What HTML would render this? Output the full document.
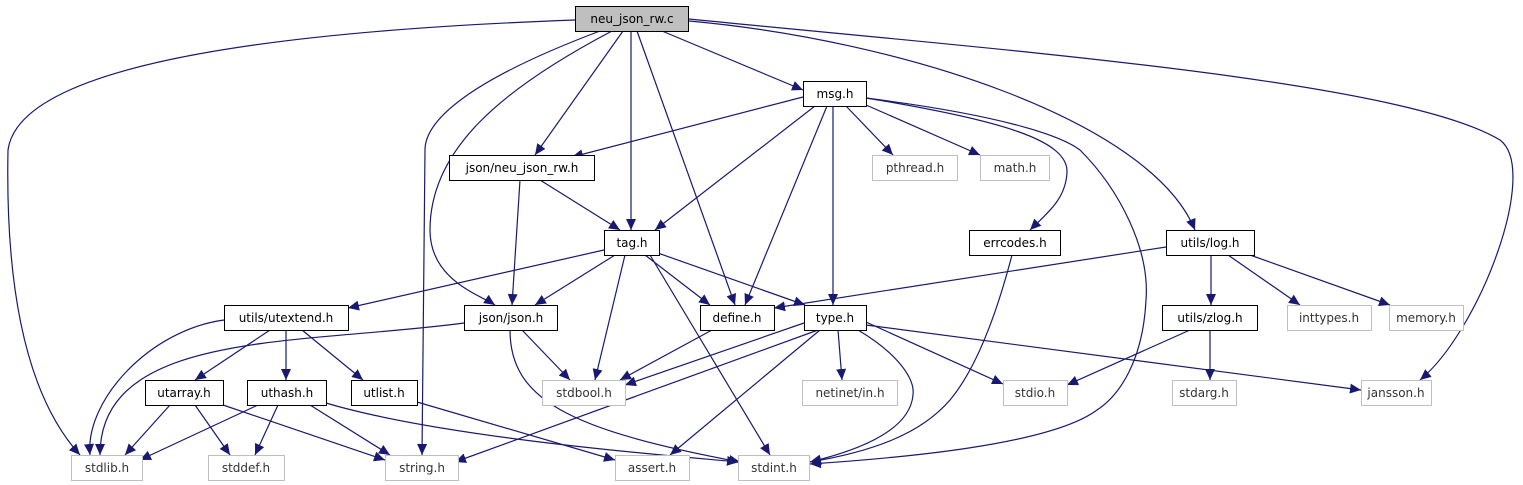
<!DOCTYPE html>
<html><head><meta charset="utf-8"><style>
body{margin:0;background:#fff}
svg{display:block}
text{font-family:"DejaVu Sans","Liberation Sans",sans-serif;font-size:12px;text-anchor:middle}
.e{fill:none;stroke:#191970;stroke-width:1.2}
.n{fill:#fff;stroke:#000;stroke-width:1}
.g{fill:#fff;stroke:#bfbfbf;stroke-width:1}
</style></head><body>
<svg width="1523" height="485" viewBox="0 0 1523 485" xmlns="http://www.w3.org/2000/svg">
<defs><marker id="a" markerUnits="userSpaceOnUse" markerWidth="12" markerHeight="10" refX="11" refY="5" orient="auto"><path d="M0,0 L11,5 L0,10 z" fill="#191970"/></marker></defs>
<g class="e" marker-end="url(#a)">
<path d="M575,20 C300,30 20,60 8,150 C5,300 30,400 80,455"/>
<path d="M600,31 C470,80 425,120 425,150 L422,455"/>
<path d="M612,31 C500,90 430,150 430,230 C430,280 480,295 495,305"/>
<path d="M623,31 L535,155"/>
<path d="M631,31 L631,230"/>
<path d="M637,31 L735,305"/>
<path d="M662,31 L803,90"/>
<path d="M689,21 C900,40 1150,120 1195,230"/>
<path d="M689,19 C1000,50 1400,80 1500,140 C1540,170 1480,330 1420,380"/>
<path d="M803,97 L572,157"/>
<path d="M815,106 L655,230"/>
<path d="M827,106 L745,305"/>
<path d="M833,106 L833,305"/>
<path d="M846,106 L893,155"/>
<path d="M866,105 L980,155"/>
<path d="M866,98 C1000,120 1068,140 1067,172 C1066,200 1045,215 1030,230"/>
<path d="M866,98 C1000,115 1060,135 1080,150 C1120,190 1150,250 1146,300 C1143,360 1120,395 1097,410 C1050,445 900,458 810,464"/>
<path d="M540,180 L620,230"/>
<path d="M520,180 L512,305"/>
<path d="M604,250 L348,308"/>
<path d="M615,255 L535,305"/>
<path d="M645,255 L710,305"/>
<path d="M655,252 L805,305"/>
<path d="M625,255 L595,380"/>
<path d="M650,255 L770,455"/>
<path d="M1012,255 C995,320 975,370 950,400 C920,435 870,452 810,462"/>
<path d="M1166,247 L774,308"/>
<path d="M1211,255 L1211,305"/>
<path d="M1228,255 L1300,305"/>
<path d="M1250,255 L1390,305"/>
<path d="M224,320 C150,330 85,400 90,455"/>
<path d="M270,330 L195,380"/>
<path d="M286,330 L286,380"/>
<path d="M302,330 L363,380"/>
<path d="M464,323 C300,345 100,330 100,455"/>
<path d="M522,330 L570,380"/>
<path d="M510,330 C510,400 570,430 740,462"/>
<path d="M712,330 L620,380"/>
<path d="M804,323 L625,385"/>
<path d="M818,330 L455,462"/>
<path d="M820,330 L670,455"/>
<path d="M838,330 L842,380"/>
<path d="M866,322 L1003,384"/>
<path d="M858,330 C900,355 915,380 913,395 C910,430 860,450 810,462"/>
<path d="M866,325 L1361,390"/>
<path d="M1190,330 L1067,385"/>
<path d="M1210,330 L1210,380"/>
<path d="M170,405 L125,455"/>
<path d="M195,405 L230,455"/>
<path d="M223,405 L385,460"/>
<path d="M258,405 L140,460"/>
<path d="M278,405 L255,455"/>
<path d="M310,405 L390,455"/>
<path d="M326,403 C450,440 700,458 738,462"/>
<path d="M417,402 L615,460"/>
</g>
<rect x="575.5" y="6.5" width="113" height="25" fill="#bfbfbf" stroke="#000"/><text x="632" y="23">neu_json_rw.c</text>
<rect class="n" x="803.5" y="81.5" width="63" height="25"/><text x="835" y="98">msg.h</text>
<rect class="n" x="449.5" y="155.5" width="145" height="25"/><text x="522" y="172">json/neu_json_rw.h</text>
<rect class="g" x="872.5" y="155.5" width="85" height="25"/><text x="915" y="172" fill="#333">pthread.h</text>
<rect class="g" x="980.5" y="155.5" width="69" height="25"/><text x="1015" y="172" fill="#333">math.h</text>
<rect class="n" x="604.5" y="230.5" width="55" height="25"/><text x="632" y="247">tag.h</text>
<rect class="n" x="969.5" y="230.5" width="91" height="25"/><text x="1015" y="247">errcodes.h</text>
<rect class="n" x="1166.5" y="230.5" width="88" height="25"/><text x="1210" y="247">utils/log.h</text>
<rect class="n" x="224.5" y="305.5" width="124" height="25"/><text x="286" y="322">utils/utextend.h</text>
<rect class="n" x="464.5" y="305.5" width="93" height="25"/><text x="511" y="322">json/json.h</text>
<rect class="n" x="700.5" y="305.5" width="74" height="25"/><text x="737" y="322">define.h</text>
<rect class="n" x="804.5" y="305.5" width="62" height="25"/><text x="835" y="322">type.h</text>
<rect class="n" x="1162.5" y="305.5" width="95" height="25"/><text x="1210" y="322">utils/zlog.h</text>
<rect class="g" x="1287.5" y="305.5" width="84" height="25"/><text x="1329" y="322" fill="#333">inttypes.h</text>
<rect class="g" x="1389.5" y="305.5" width="74" height="25"/><text x="1426" y="322" fill="#333">memory.h</text>
<rect class="n" x="145.5" y="380.5" width="78" height="25"/><text x="184" y="397">utarray.h</text>
<rect class="n" x="247.5" y="380.5" width="79" height="25"/><text x="287" y="397">uthash.h</text>
<rect class="n" x="351.5" y="380.5" width="66" height="25"/><text x="384" y="397">utlist.h</text>
<rect class="g" x="542.5" y="380.5" width="83" height="25"/><text x="584" y="397" fill="#333">stdbool.h</text>
<rect class="g" x="802.5" y="380.5" width="95" height="25"/><text x="850" y="397" fill="#333">netinet/in.h</text>
<rect class="g" x="1003.5" y="380.5" width="64" height="25"/><text x="1035" y="397" fill="#333">stdio.h</text>
<rect class="g" x="1172.5" y="380.5" width="64" height="25"/><text x="1204" y="397" fill="#333">stdarg.h</text>
<rect class="g" x="1361.5" y="380.5" width="70" height="25"/><text x="1396" y="397" fill="#333">jansson.h</text>
<rect class="g" x="71.5" y="455.5" width="71" height="25"/><text x="107" y="472" fill="#333">stdlib.h</text>
<rect class="g" x="208.5" y="455.5" width="76" height="25"/><text x="246" y="472" fill="#333">stddef.h</text>
<rect class="g" x="385.5" y="455.5" width="73" height="25"/><text x="422" y="472" fill="#333">string.h</text>
<rect class="g" x="615.5" y="455.5" width="74" height="25"/><text x="652" y="472" fill="#333">assert.h</text>
<rect class="g" x="738.5" y="455.5" width="71" height="25"/><text x="774" y="472" fill="#333">stdint.h</text>
</svg>
</body></html>
